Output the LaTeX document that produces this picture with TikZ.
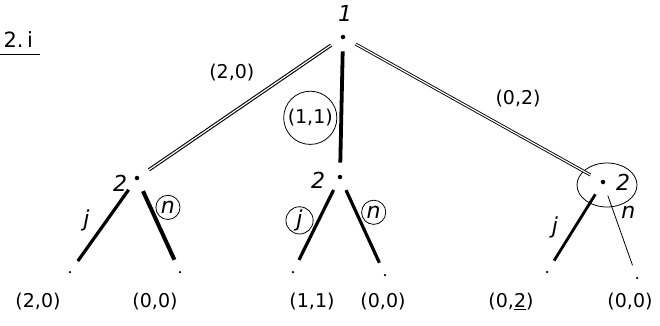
\documentclass[tikz,border=0pt]{standalone}
\usepackage{fontspec}
\setmainfont{DejaVu Sans}
\begin{document}
\begin{tikzpicture}[x=1pt,y=-1pt,
  dotnode/.style={circle,fill=black,inner sep=0pt,minimum size=4.5pt},
  lbl/.style={font=\fontsize{22}{22}\selectfont\itshape},
  pay/.style={font=\fontsize{19}{19}\selectfont},
  heavy/.style={line width=3.2pt,shorten <=12pt,shorten >=12pt},
  dbl/.style={double,double distance=1.2pt,line width=0.9pt,shorten <=12pt,shorten >=12pt},
  thin/.style={line width=0.8pt,shorten <=12pt,shorten >=12pt},
  ring/.style={draw,circle,inner sep=2pt,line width=0.8pt}]
\useasboundingbox (0,0) rectangle (660,325);
% title
\node[pay,anchor=west,font=\fontsize{21}{21}\selectfont] (title) at (0,40) {2.\,i};
\draw[line width=1pt] ([yshift=-3pt]title.south west) -- ([yshift=-3pt,xshift=4pt]title.south east);
% nodes
\node[dotnode] (r) at (343,37) {};
\node[lbl] (rl) at (345,13) {1};
\node[dotnode] (a) at (137,178) {};
\node[lbl] (al) at (120,183) {2};
\node[dotnode] (b) at (340,177) {};
\node[lbl] (bl) at (318,180) {2};
\node[dotnode] (c) at (603,182) {};
\node[lbl] (cl) at (623,182) {2};
\draw[line width=0.8pt] ([xshift=4pt,yshift=-3pt]c) ellipse (30pt and 22pt);
% leaves
\node[dotnode,minimum size=2.5pt] (l1) at (70,272) {};
\node[dotnode,minimum size=2.5pt] (l2) at (180,272) {};
\node[dotnode,minimum size=2.5pt] (l3) at (293,272) {};
\node[dotnode,minimum size=2.5pt] (l4) at (385,275) {};
\node[dotnode,minimum size=2.5pt] (l5) at (547,272) {};
\node[dotnode,minimum size=2.5pt] (l6) at (637,278) {};
% root edges
\draw[dbl,line width=1.1pt] (r) -- (a) node[pay,pos=0.38,above left=6pt] (e1) {(2,0)};
\draw[heavy,line width=3.8pt] (r) -- (b) node[pay,ring,pos=0.58,left=4pt] (e2) {(1,1)};
\draw[dbl] (r) -- (c) node[pay,pos=0.55,above right=6pt] (e3) {(0,2)};
% left subtree
\draw[heavy] (a) -- (l1) node[lbl,pos=0.45,left=12pt] (j1) {j};
\draw[heavy,line width=4pt] (a) -- (l2) node[lbl,ring,pos=0.3,right=5pt] (n1) {n};
% middle subtree
\draw[heavy] (b) -- (l3) node[lbl,ring,pos=0.45,left=5pt] (j2) {j};
\draw[heavy] (b) -- (l4) node[lbl,ring,pos=0.35,right=5pt] (n2) {n};
% right subtree
\draw[heavy,line width=2.8pt] (c) -- (l5) node[lbl,pos=0.5,left=12pt] (j3) {j};
\draw[thin] (c) -- (l6) node[lbl,pos=0.3,right=4pt] (n3) {n};
% payoffs
\node[pay] (p1) at (38,302) {(2,0)};
\node[pay] (p2) at (155,302) {(0,0)};
\node[pay] (p3) at (312,302) {(1,1)};
\node[pay] (p4) at (383,302) {(0,0)};
\node[pay] (p5) at (511,302) {(0,\underline{2})};
\node[pay] (p6) at (630,302) {(0,0)};
\end{tikzpicture}
\end{document}
